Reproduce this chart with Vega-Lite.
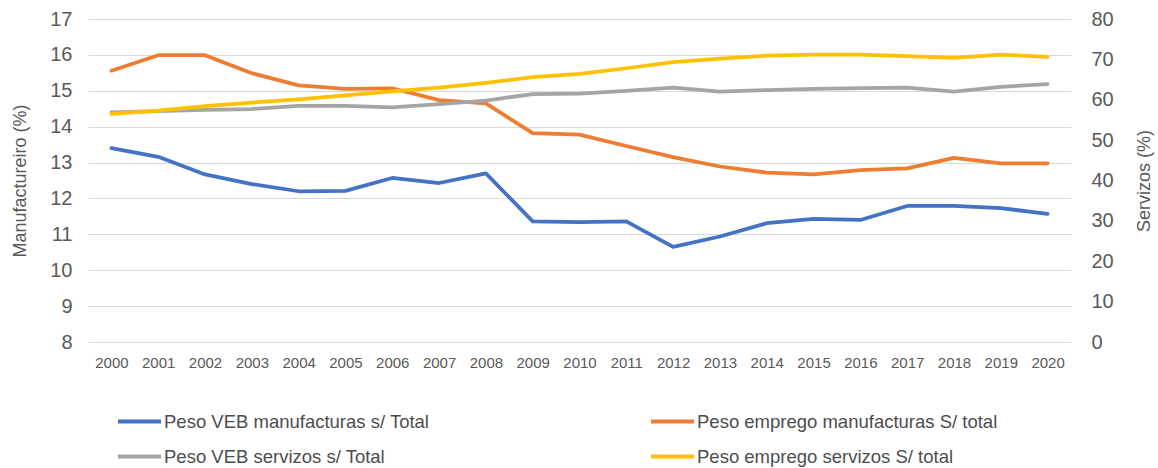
{
  "$schema": "https://vega.github.io/schema/vega-lite/v6.json",
  "width": 983,
  "height": 323,
  "autosize": {"type": "none"},
  "padding": {"left": 88, "top": 19, "right": 87, "bottom": 126},
  "background": "white",
  "config": {"view": {"stroke": null}, "font": "Liberation Sans"},
  "datasets": {
    "manuf": [
      {"year": "2000", "series": "Peso VEB manufacturas s/ Total", "value": 13.40},
      {"year": "2001", "series": "Peso VEB manufacturas s/ Total", "value": 13.16},
      {"year": "2002", "series": "Peso VEB manufacturas s/ Total", "value": 12.67},
      {"year": "2003", "series": "Peso VEB manufacturas s/ Total", "value": 12.40},
      {"year": "2004", "series": "Peso VEB manufacturas s/ Total", "value": 12.20},
      {"year": "2005", "series": "Peso VEB manufacturas s/ Total", "value": 12.21},
      {"year": "2006", "series": "Peso VEB manufacturas s/ Total", "value": 12.57},
      {"year": "2007", "series": "Peso VEB manufacturas s/ Total", "value": 12.43},
      {"year": "2008", "series": "Peso VEB manufacturas s/ Total", "value": 12.70},
      {"year": "2009", "series": "Peso VEB manufacturas s/ Total", "value": 11.36},
      {"year": "2010", "series": "Peso VEB manufacturas s/ Total", "value": 11.34},
      {"year": "2011", "series": "Peso VEB manufacturas s/ Total", "value": 11.36},
      {"year": "2012", "series": "Peso VEB manufacturas s/ Total", "value": 10.65},
      {"year": "2013", "series": "Peso VEB manufacturas s/ Total", "value": 10.94},
      {"year": "2014", "series": "Peso VEB manufacturas s/ Total", "value": 11.31},
      {"year": "2015", "series": "Peso VEB manufacturas s/ Total", "value": 11.43},
      {"year": "2016", "series": "Peso VEB manufacturas s/ Total", "value": 11.40},
      {"year": "2017", "series": "Peso VEB manufacturas s/ Total", "value": 11.79},
      {"year": "2018", "series": "Peso VEB manufacturas s/ Total", "value": 11.79},
      {"year": "2019", "series": "Peso VEB manufacturas s/ Total", "value": 11.73},
      {"year": "2020", "series": "Peso VEB manufacturas s/ Total", "value": 11.57},
      {"year": "2000", "series": "Peso emprego manufacturas S/ total", "value": 15.56},
      {"year": "2001", "series": "Peso emprego manufacturas S/ total", "value": 15.99},
      {"year": "2002", "series": "Peso emprego manufacturas S/ total", "value": 15.99},
      {"year": "2003", "series": "Peso emprego manufacturas S/ total", "value": 15.49},
      {"year": "2004", "series": "Peso emprego manufacturas S/ total", "value": 15.15},
      {"year": "2005", "series": "Peso emprego manufacturas S/ total", "value": 15.05},
      {"year": "2006", "series": "Peso emprego manufacturas S/ total", "value": 15.07},
      {"year": "2007", "series": "Peso emprego manufacturas S/ total", "value": 14.74},
      {"year": "2008", "series": "Peso emprego manufacturas S/ total", "value": 14.65},
      {"year": "2009", "series": "Peso emprego manufacturas S/ total", "value": 13.82},
      {"year": "2010", "series": "Peso emprego manufacturas S/ total", "value": 13.78},
      {"year": "2011", "series": "Peso emprego manufacturas S/ total", "value": 13.46},
      {"year": "2012", "series": "Peso emprego manufacturas S/ total", "value": 13.15},
      {"year": "2013", "series": "Peso emprego manufacturas S/ total", "value": 12.89},
      {"year": "2014", "series": "Peso emprego manufacturas S/ total", "value": 12.72},
      {"year": "2015", "series": "Peso emprego manufacturas S/ total", "value": 12.67},
      {"year": "2016", "series": "Peso emprego manufacturas S/ total", "value": 12.79},
      {"year": "2017", "series": "Peso emprego manufacturas S/ total", "value": 12.84},
      {"year": "2018", "series": "Peso emprego manufacturas S/ total", "value": 13.13},
      {"year": "2019", "series": "Peso emprego manufacturas S/ total", "value": 12.98},
      {"year": "2020", "series": "Peso emprego manufacturas S/ total", "value": 12.98}
    ],
    "serv": [
      {"year": "2000", "series": "Peso VEB servizos s/ Total", "value": 56.9},
      {"year": "2001", "series": "Peso VEB servizos s/ Total", "value": 57.2},
      {"year": "2002", "series": "Peso VEB servizos s/ Total", "value": 57.5},
      {"year": "2003", "series": "Peso VEB servizos s/ Total", "value": 57.7},
      {"year": "2004", "series": "Peso VEB servizos s/ Total", "value": 58.5},
      {"year": "2005", "series": "Peso VEB servizos s/ Total", "value": 58.5},
      {"year": "2006", "series": "Peso VEB servizos s/ Total", "value": 58.1},
      {"year": "2007", "series": "Peso VEB servizos s/ Total", "value": 58.9},
      {"year": "2008", "series": "Peso VEB servizos s/ Total", "value": 59.8},
      {"year": "2009", "series": "Peso VEB servizos s/ Total", "value": 61.4},
      {"year": "2010", "series": "Peso VEB servizos s/ Total", "value": 61.5},
      {"year": "2011", "series": "Peso VEB servizos s/ Total", "value": 62.2},
      {"year": "2012", "series": "Peso VEB servizos s/ Total", "value": 63.0},
      {"year": "2013", "series": "Peso VEB servizos s/ Total", "value": 62.0},
      {"year": "2014", "series": "Peso VEB servizos s/ Total", "value": 62.4},
      {"year": "2015", "series": "Peso VEB servizos s/ Total", "value": 62.7},
      {"year": "2016", "series": "Peso VEB servizos s/ Total", "value": 62.9},
      {"year": "2017", "series": "Peso VEB servizos s/ Total", "value": 63.0},
      {"year": "2018", "series": "Peso VEB servizos s/ Total", "value": 62.0},
      {"year": "2019", "series": "Peso VEB servizos s/ Total", "value": 63.2},
      {"year": "2020", "series": "Peso VEB servizos s/ Total", "value": 63.9},
      {"year": "2000", "series": "Peso emprego servizos S/ total", "value": 56.5},
      {"year": "2001", "series": "Peso emprego servizos S/ total", "value": 57.3},
      {"year": "2002", "series": "Peso emprego servizos S/ total", "value": 58.4},
      {"year": "2003", "series": "Peso emprego servizos S/ total", "value": 59.3},
      {"year": "2004", "series": "Peso emprego servizos S/ total", "value": 60.1},
      {"year": "2005", "series": "Peso emprego servizos S/ total", "value": 61.1},
      {"year": "2006", "series": "Peso emprego servizos S/ total", "value": 62.1},
      {"year": "2007", "series": "Peso emprego servizos S/ total", "value": 63.0},
      {"year": "2008", "series": "Peso emprego servizos S/ total", "value": 64.2},
      {"year": "2009", "series": "Peso emprego servizos S/ total", "value": 65.6},
      {"year": "2010", "series": "Peso emprego servizos S/ total", "value": 66.4},
      {"year": "2011", "series": "Peso emprego servizos S/ total", "value": 67.8},
      {"year": "2012", "series": "Peso emprego servizos S/ total", "value": 69.3},
      {"year": "2013", "series": "Peso emprego servizos S/ total", "value": 70.2},
      {"year": "2014", "series": "Peso emprego servizos S/ total", "value": 70.9},
      {"year": "2015", "series": "Peso emprego servizos S/ total", "value": 71.2},
      {"year": "2016", "series": "Peso emprego servizos S/ total", "value": 71.2},
      {"year": "2017", "series": "Peso emprego servizos S/ total", "value": 70.8},
      {"year": "2018", "series": "Peso emprego servizos S/ total", "value": 70.4},
      {"year": "2019", "series": "Peso emprego servizos S/ total", "value": 71.2},
      {"year": "2020", "series": "Peso emprego servizos S/ total", "value": 70.6}
    ]
  },
  "layer": [
    {
      "data": {"name": "manuf"},
      "mark": {"type": "line", "strokeWidth": 3.75, "strokeCap": "round", "strokeJoin": "round"},
      "encoding": {
        "x": {
          "field": "year", "type": "ordinal",
          "scale": {"type": "point", "padding": 0.5},
          "axis": {
            "title": null, "domain": false, "ticks": false, "grid": false,
            "labelAngle": 0, "labelPadding": 13, "labelFontSize": 15,
            "labelColor": "#595959"
          }
        },
        "y": {
          "field": "value", "type": "quantitative",
          "scale": {"domain": [8, 17], "nice": false, "zero": false},
          "axis": {
            "orient": "left",
            "values": [8, 9, 10, 11, 12, 13, 14, 15, 16, 17],
            "grid": true, "gridColor": "#D9D9D9", "gridWidth": 1.2,
            "domain": false, "ticks": false,
            "labelPadding": 16, "labelFontSize": 20, "labelColor": "#595959",
            "title": "Manufactureiro (%)", "titleFontSize": 18, "titleFontWeight": "normal",
            "titleColor": "#595959", "titleAngle": 270, "titleX": -68, "titleY": 161.5,
            "titleBaseline": "middle", "titleAlign": "center"
          }
        },
        "color": {
          "field": "series", "type": "nominal",
          "scale": {
            "domain": ["Peso VEB manufacturas s/ Total", "Peso VEB servizos s/ Total", "Peso emprego manufacturas S/ total", "Peso emprego servizos S/ total"],
            "range": ["#4472C4", "#A5A5A5", "#ED7D31", "#FFC000"]
          },
          "legend": {
            "title": null, "orient": "none", "legendX": 28, "legendY": 379,
            "columns": 2, "columnPadding": 213, "rowPadding": 2,
            "symbolType": "stroke", "symbolSize": 1849, "symbolStrokeWidth": 4,
            "labelOffset": 1, "labelFontSize": 18.5, "labelColor": "#4d4d4d",
            "labelLimit": 400
          }
        }
      }
    },
    {
      "data": {"name": "serv"},
      "mark": {"type": "line", "strokeWidth": 3.75, "strokeCap": "round", "strokeJoin": "round"},
      "encoding": {
        "x": {"field": "year", "type": "ordinal", "scale": {"type": "point", "padding": 0.5}},
        "y": {
          "field": "value", "type": "quantitative",
          "scale": {"domain": [0, 80], "nice": false},
          "axis": {
            "orient": "right",
            "values": [0, 10, 20, 30, 40, 50, 60, 70, 80],
            "grid": false, "domain": false, "ticks": false,
            "labelPadding": 20, "labelFontSize": 20, "labelColor": "#595959",
            "title": "Servizos (%)", "titleFontSize": 18, "titleFontWeight": "normal",
            "titleColor": "#595959", "titleAngle": 270, "titleX": 73, "titleY": 161.5,
            "titleBaseline": "middle", "titleAlign": "center"
          }
        },
        "color": {
          "field": "series", "type": "nominal",
          "scale": {
            "domain": ["Peso VEB manufacturas s/ Total", "Peso VEB servizos s/ Total", "Peso emprego manufacturas S/ total", "Peso emprego servizos S/ total"],
            "range": ["#4472C4", "#A5A5A5", "#ED7D31", "#FFC000"]
          }
        }
      }
    }
  ],
  "resolve": {"scale": {"y": "independent"}}
}
